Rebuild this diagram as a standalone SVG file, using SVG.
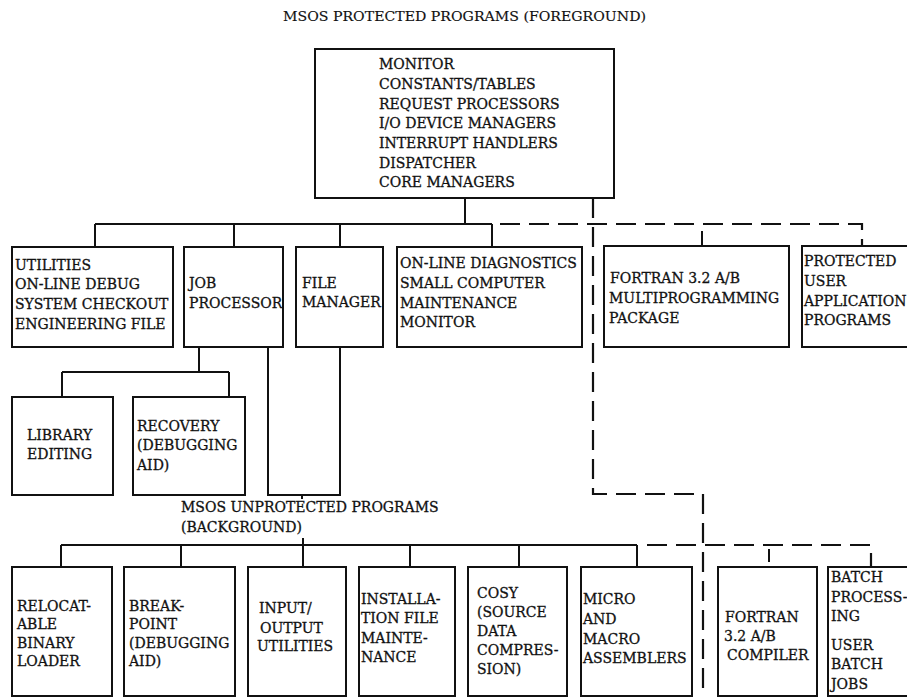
<svg xmlns="http://www.w3.org/2000/svg" width="907" height="698" viewBox="0 0 907 698">
<style>
.bg{fill:#fff}
.box{fill:#fff;stroke:#111;stroke-width:2}
.ln{fill:none;stroke:#111;stroke-width:2}
.dl{fill:none;stroke:#111;stroke-width:2.2;stroke-dasharray:20 9}
text{font-family:"DejaVu Serif","Liberation Serif",serif;font-size:14px;fill:#111;stroke:#111;stroke-width:0.3}
.ttl{font-size:12.5px;stroke-width:0.15}
</style>
<rect class="bg" x="0" y="0" width="907" height="698"/>
<text class="ttl" x="283" y="21" textLength="363" lengthAdjust="spacingAndGlyphs">MSOS PROTECTED PROGRAMS (FOREGROUND)</text>

<g id="connectors">
  <path class="ln" d="M465,198V224M95,224H492M95,224V247M234,224V247M340,224V247M492,224V247"/>
  <path class="ln" d="M199,347V372M62,372H229M62,372V397M229,372V397"/>
  <path class="ln" d="M268,347V495H340V347M302,495V499"/>
  <path class="ln" d="M303,538V545M61,545H637M61,545V567M181,545V567M303,545V567M410,545V567M519,545V567M637,545V567"/>
  <path class="dl" d="M593,198V494H703V696"/>
  <path class="dl" d="M500,224H862V246"/>
  <path class="ln" d="M702,231V246"/>
  <path class="dl" d="M647,545H871V567"/>
  <path class="ln" d="M769,549V562"/>
</g>

<g id="n-top">
  <rect class="box" x="315" y="49" width="299" height="149"/>
  <text x="379" y="69">MONITOR</text>
  <text x="379" y="89">CONSTANTS/TABLES</text>
  <text x="379" y="109">REQUEST PROCESSORS</text>
  <text x="379" y="128">I/O DEVICE MANAGERS</text>
  <text x="379" y="148">INTERRUPT HANDLERS</text>
  <text x="379" y="168">DISPATCHER</text>
  <text x="379" y="187">CORE MANAGERS</text>
</g>
<g id="n-utilities">
  <rect class="box" x="12" y="247" width="161" height="100"/>
  <text x="15" y="270">UTILITIES</text>
  <text x="15" y="289">ON-LINE DEBUG</text>
  <text x="15" y="309">SYSTEM CHECKOUT</text>
  <text x="15" y="329">ENGINEERING FILE</text>
</g>
<g id="n-job">
  <rect class="box" x="184" y="247" width="99" height="100"/>
  <text x="189" y="288">JOB</text>
  <text x="189" y="308">PROCESSOR</text>
</g>
<g id="n-file">
  <rect class="box" x="296" y="247" width="87" height="100"/>
  <text x="302" y="288">FILE</text>
  <text x="302" y="307">MANAGER</text>
</g>
<g id="n-diag">
  <rect class="box" x="397" y="247" width="185" height="100"/>
  <text x="400" y="268">ON-LINE DIAGNOSTICS</text>
  <text x="400" y="288">SMALL COMPUTER</text>
  <text x="400" y="308">MAINTENANCE</text>
  <text x="400" y="327">MONITOR</text>
</g>
<g id="n-fortran-mp">
  <rect class="box" x="604" y="246" width="185" height="101"/>
  <text x="610" y="283">FORTRAN 3.2 A/B</text>
  <text x="609" y="303">MULTIPROGRAMMING</text>
  <text x="609" y="323">PACKAGE</text>
</g>
<g id="n-protected-user">
  <rect class="box" x="802" y="246" width="112" height="101"/>
  <text x="804" y="266">PROTECTED</text>
  <text x="804" y="286">USER</text>
  <text x="804" y="306">APPLICATION</text>
  <text x="804" y="325">PROGRAMS</text>
</g>
<g id="n-library">
  <rect class="box" x="12" y="397" width="101" height="98"/>
  <text x="27" y="440">LIBRARY</text>
  <text x="27" y="459">EDITING</text>
</g>
<g id="n-recovery">
  <rect class="box" x="133" y="397" width="112" height="98"/>
  <text x="137" y="431">RECOVERY</text>
  <text x="137" y="450">(DEBUGGING</text>
  <text x="137" y="470">AID)</text>
</g>

<text x="181" y="512">MSOS UNPROTECTED PROGRAMS</text>
<text x="181" y="532">(BACKGROUND)</text>

<g id="n-reloc">
  <rect class="box" x="12" y="567" width="100" height="129"/>
  <text x="17" y="611">RELOCAT-</text>
  <text x="17" y="629">ABLE</text>
  <text x="17" y="648">BINARY</text>
  <text x="17" y="666">LOADER</text>
</g>
<g id="n-breakpoint">
  <rect class="box" x="124" y="567" width="111" height="129"/>
  <text x="129" y="611">BREAK-</text>
  <text x="129" y="629">POINT</text>
  <text x="129" y="648">(DEBUGGING</text>
  <text x="129" y="666">AID)</text>
</g>
<g id="n-io">
  <rect class="box" x="248" y="567" width="98" height="129"/>
  <text x="259" y="613">INPUT/</text>
  <text x="260" y="633">OUTPUT</text>
  <text x="257" y="651">UTILITIES</text>
</g>
<g id="n-install">
  <rect class="box" x="359" y="567" width="96" height="129"/>
  <text x="361" y="604">INSTALLA-</text>
  <text x="361" y="623">TION FILE</text>
  <text x="361" y="643">MAINTE-</text>
  <text x="361" y="662">NANCE</text>
</g>
<g id="n-cosy">
  <rect class="box" x="468" y="567" width="99" height="129"/>
  <text x="477" y="598">COSY</text>
  <text x="477" y="617">(SOURCE</text>
  <text x="477" y="636">DATA</text>
  <text x="477" y="655">COMPRES-</text>
  <text x="477" y="674">SION)</text>
</g>
<g id="n-micro">
  <rect class="box" x="581" y="567" width="111" height="129"/>
  <text x="583" y="604">MICRO</text>
  <text x="583" y="624">AND</text>
  <text x="583" y="644">MACRO</text>
  <text x="583" y="663">ASSEMBLERS</text>
</g>
<g id="n-fortran-comp">
  <rect class="box" x="718" y="567" width="99" height="129"/>
  <text x="725" y="622">FORTRAN</text>
  <text x="724" y="641">3.2 A/B</text>
  <text x="727" y="660">COMPILER</text>
</g>
<g id="n-batch">
  <rect class="box" x="828" y="567" width="86" height="129"/>
  <text x="831" y="582">BATCH</text>
  <text x="831" y="602">PROCESS-</text>
  <text x="831" y="621">ING</text>
  <text x="831" y="650">USER</text>
  <text x="831" y="669">BATCH</text>
  <text x="831" y="689">JOBS</text>
</g>
</svg>
